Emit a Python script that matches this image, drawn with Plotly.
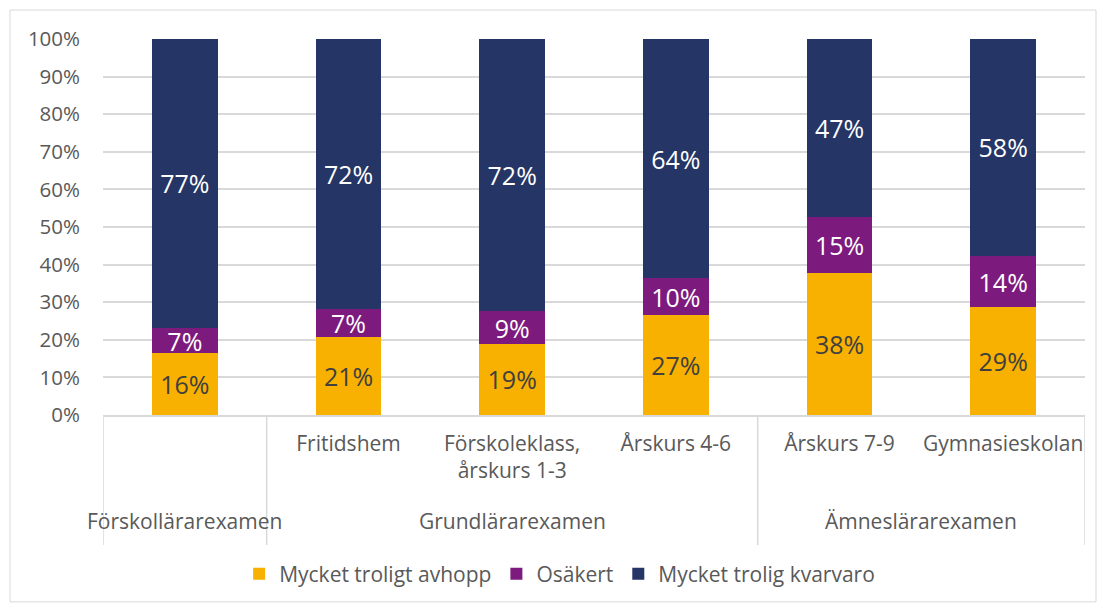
import plotly.graph_objects as go

# data
grupper = ['Förskollärarexamen', 'Grundlärarexamen', 'Ämneslärarexamen']
grupp_pos = [0, 2, 4.5]
inriktning = ['', 'Fritidshem', 'Förskoleklass,<br>årskurs 1-3', 'Årskurs 4-6',
              'Årskurs 7-9', 'Gymnasieskolan']
avhopp = [16.4, 20.8, 18.9, 26.6, 37.8, 28.6]
osakert = [6.8, 7.4, 8.7, 9.8, 14.8, 13.8]
kvarvaro = [76.8, 71.8, 72.4, 63.6, 47.4, 57.6]

FONT = 'Open Sans'
GRAY = '#595959'
x = list(range(len(inriktning)))

serier = [
    ('Mycket troligt avhopp', avhopp, '#F8B100', '#404040'),
    ('Osäkert', osakert, '#7C1A7E', 'white'),
    ('Mycket trolig kvarvaro', kvarvaro, '#253565', 'white'),
]

fig = go.Figure()
for namn, vals, farg, textfarg in serier:
    fig.add_trace(go.Bar(
        x=x, y=vals, name=namn, width=0.4,
        marker=dict(color=farg, line=dict(width=0)),
        texttemplate='%{y:.0f}%', textposition='inside',
        insidetextanchor='middle', textangle=0, constraintext='none',
        textfont=dict(family=FONT, size=25, color=textfarg),
        hoverinfo='skip',
    ))

shapes = []
# skiljelinjer mellan grupperna
for xv in [-0.5, 0.5, 3.5, 5.5]:
    shapes.append(dict(type='line', xref='x', yref='paper', x0=xv, x1=xv,
                       y0=0, y1=-0.346, line=dict(color='#D9D9D9', width=1.5)))
# ram runt diagrammet
shapes.append(dict(type='rect', xref='paper', yref='paper',
                   x0=-0.0947, x1=1.0112, y0=-0.497, y1=1.077,
                   line=dict(color='#D9D9D9', width=1)))

annotations = []
for namn, pos in zip(grupper, grupp_pos):
    annotations.append(dict(text=namn, x=pos, y=-0.282, xref='x', yref='paper',
                            showarrow=False, yanchor='middle',
                            font=dict(family=FONT, size=21, color=GRAY)))

# sidan har 8px marginal, därför förskjuts allt 8px
fig.update_layout(
    width=1105, height=606,
    margin=dict(l=95, r=28, t=31, b=199),
    paper_bgcolor='white', plot_bgcolor='white',
    barmode='stack',
    font=dict(family=FONT, size=21, color=GRAY),
    showlegend=True,
    legend=dict(orientation='h', x=0.465, xanchor='center', y=-0.423,
                yanchor='middle', font=dict(family=FONT, size=21, color=GRAY),
                traceorder='normal'),
    shapes=shapes,
    annotations=annotations,
)
fig.update_xaxes(
    tickvals=x, ticktext=inriktning, range=[-0.5, 5.5],
    showline=True, linecolor='#D9D9D9', linewidth=1.5,
    showgrid=False, ticks='', ticklabelstandoff=9,
    tickfont=dict(family=FONT, size=21, color=GRAY),
)
fig.update_yaxes(
    range=[0, 100], dtick=10, ticksuffix='%',
    gridcolor='#D9D9D9', gridwidth=1.5, zeroline=False, showline=False,
    ticklabelstandoff=22,
    tickfont=dict(family=FONT, size=20.5, color=GRAY),
)

fig.write_html('out.html')
